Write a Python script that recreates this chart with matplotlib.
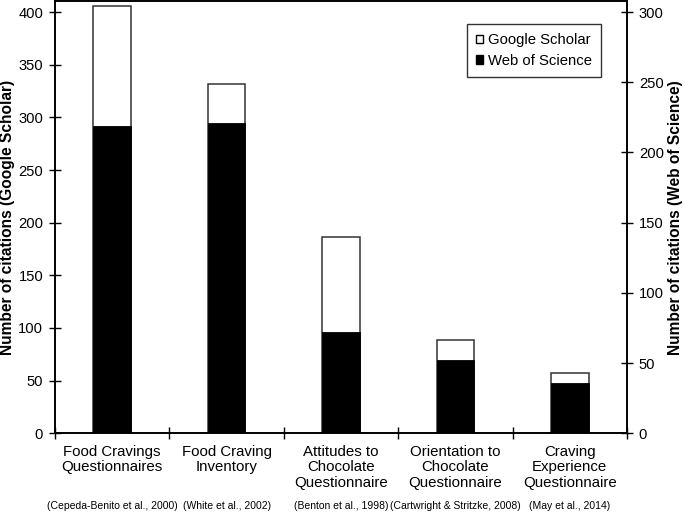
import matplotlib
matplotlib.use("Agg")
import matplotlib.pyplot as plt
from matplotlib.patches import Patch
import numpy as np

plt.rcParams['font.family'] = ['Liberation Sans', 'DejaVu Sans']

categories = ["Food Cravings\nQuestionnaires", "Food Craving\nInventory",
              "Attitudes to\nChocolate\nQuestionnaire",
              "Orientation to\nChocolate\nQuestionnaire",
              "Craving\nExperience\nQuestionnaire"]
citations = ["(Cepeda-Benito et al., 2000)", "(White et al., 2002)",
             "(Benton et al., 1998)", "(Cartwright & Stritzke, 2008)",
             "(May et al., 2014)"]
google_scholar = [406, 332, 186, 89, 57]
web_of_science = [219, 221, 72, 52, 36]

fig = plt.figure(figsize=(6.85, 5.14), dpi=100)
ax = fig.add_axes([55/685, 1-433.3/514, (627-55)/685, (433.3-1)/514])
ax2 = ax.twinx()

x = np.arange(len(categories))
w = 0.33
ax.bar(x, google_scholar, width=w, color='white', edgecolor='#333333', linewidth=1.1, zorder=2)
ax2.bar(x, web_of_science, width=w, color='black', edgecolor='black', linewidth=0.6, zorder=2)

ax.set_xlim(-0.5, len(categories)-0.5)
ax.set_ylim(0, 410.5)
ax2.set_ylim(0, 410.5*0.75)
ax.set_yticks(np.arange(0, 401, 50))
ax2.set_yticks(np.arange(0, 301, 50))

ax.set_xticks(np.arange(-0.5, len(categories)+0.5, 1))
ax.set_xticklabels([])
ax.tick_params(axis='x', direction='inout', length=8, width=1)
ax.tick_params(axis='y', direction='inout', length=9, width=1, labelsize=10.6, pad=4)
ax2.tick_params(axis='y', direction='inout', length=9, width=1, labelsize=10.6, pad=4)

for a in (ax, ax2):
    for s in a.spines.values():
        s.set_linewidth(1.2)

for i, (c, cit) in enumerate(zip(categories, citations)):
    ax.text(i, -0.026, c, transform=ax.get_xaxis_transform(), ha='center', va='top',
            fontsize=10.8, linespacing=1.15)
    ax.text(i, -0.168, cit, transform=ax.get_xaxis_transform(), ha='center', va='center',
            fontsize=7.5)

ax.set_ylabel("Number of citations (Google Scholar)", fontsize=11.2, fontweight='bold')
ax.yaxis.set_label_coords(-0.0695, 0.5)
ax2.set_ylabel("Number of citations (Web of Science)", fontsize=11.2, fontweight='bold',
               rotation=90)
ax2.yaxis.set_label_coords(1.0717, 0.5)

handles = [Patch(facecolor='white', edgecolor='black', linewidth=1),
           Patch(facecolor='black', edgecolor='black')]
leg = ax2.legend(handles, ["Google Scholar", "Web of Science"], loc='upper right',
                 bbox_to_anchor=(0.954, 0.946), fontsize=10.7, frameon=True, fancybox=False,
                 handlelength=0.5, handleheight=0.5, handletextpad=0.32, borderpad=0.6,
                 labelspacing=0.45, borderaxespad=0)
leg.get_frame().set_edgecolor('black')
leg.get_frame().set_linewidth(1)

fig.savefig("out.png", dpi=100)
